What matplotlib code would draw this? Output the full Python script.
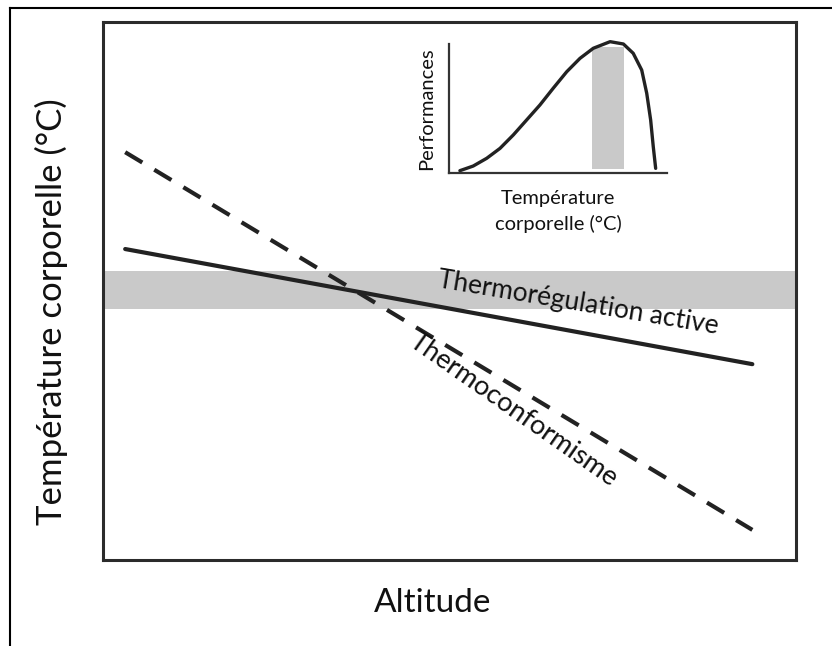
import matplotlib
matplotlib.use("Agg")
import matplotlib.pyplot as plt
from matplotlib.lines import Line2D

plt.rcParams['font.family'] = ['Lato', 'DejaVu Sans']

# main panel (altitude vs body temperature, arbitrary units 0-100)
altitude = [3.2, 93.7]
thermoreg = [57.8, 36.4]      # thermorégulation active
thermoconf = [75.8, 5.6]      # thermoconformisme
optimum_band = [46.7, 53.7]   # optimal body temperature range

# inset: performance curve
inset_temp = [5.0, 11.1, 17.3, 23.4, 29.5, 35.6, 41.7, 47.8, 54.0, 60.1,
              66.2, 73.9, 80.0, 84.5, 88.4, 90.7, 92.5, 93.7, 94.8]
inset_perf = [1.8, 5.4, 11.4, 19.1, 29.5, 41.1, 52.7, 65.7, 78.5, 88.9,
              96.7, 101.8, 100.0, 92.8, 79.8, 61.8, 41.1, 20.4, 3.6]
inset_band = [65.6, 80.3]

line_col = '#222222'
band_col = '#c9c9c9'
txt_col = '#111111'

fig = plt.figure(figsize=(8.32, 6.46), dpi=100)

# outer frame (top and left only)
fig.add_artist(Line2D([10/832, 10/832], [0, 1 - 8/646], transform=fig.transFigure,
                      color='black', lw=1.5))
fig.add_artist(Line2D([10/832, 1], [1 - 8/646, 1 - 8/646], transform=fig.transFigure,
                      color='black', lw=1.5))

ax = fig.add_axes([103/832, 86/646, 693/832, 538/646])
ax.set_xlim(0, 100)
ax.set_ylim(0, 100)
ax.set_xticks([])
ax.set_yticks([])
for s in ax.spines.values():
    s.set_linewidth(2.2)
    s.set_color('#2b2b2b')

ax.axhspan(optimum_band[0], optimum_band[1], color=band_col, lw=0, zorder=1)
ax.plot(altitude, thermoreg, color=line_col, lw=3, solid_capstyle='round', zorder=3)
ax.plot(altitude, thermoconf, color=line_col, lw=3, dashes=(4.8, 3.35), zorder=3)

ax.text(68.5, 47.8, "Thermorégulation active", rotation=-9.5, fontsize=19,
        ha='center', va='center', rotation_mode='anchor', color=txt_col)
ax.text(59.2, 27.9, "Thermoconformisme", rotation=-35, fontsize=19.5,
        ha='center', va='center', rotation_mode='anchor', color=txt_col)

ax.set_xlabel("Altitude", fontsize=24, color=txt_col)
ax.xaxis.set_label_coords(0.476, -0.052)
ax.set_ylabel("Température corporelle (°C)", fontsize=25, color=txt_col)
ax.yaxis.set_label_coords(-0.051, 0.461)

# inset
axi = fig.add_axes([449/832, (646 - 173)/646, 218/832, 129/646])
axi.set_xlim(0, 100)
axi.set_ylim(0, 100)
axi.set_xticks([])
axi.set_yticks([])
axi.patch.set_alpha(0)
for k in ['top', 'right']:
    axi.spines[k].set_visible(False)
for k in ['left', 'bottom']:
    axi.spines[k].set_linewidth(1.6)
    axi.spines[k].set_color('#333333')
axi.axvspan(inset_band[0], inset_band[1], ymin=0.03, ymax=0.98, color=band_col, lw=0)
axi.plot(inset_temp, inset_perf, color=line_col, lw=2.4, clip_on=False,
         solid_joinstyle='round', solid_capstyle='round')
axi.set_ylabel("Performances", fontsize=14.5, labelpad=10, color=txt_col)
axi.set_xlabel("Température\ncorporelle (°C)", fontsize=14.5, labelpad=12,
               linespacing=1.55, color=txt_col)

fig.savefig("out.png", dpi=100)
